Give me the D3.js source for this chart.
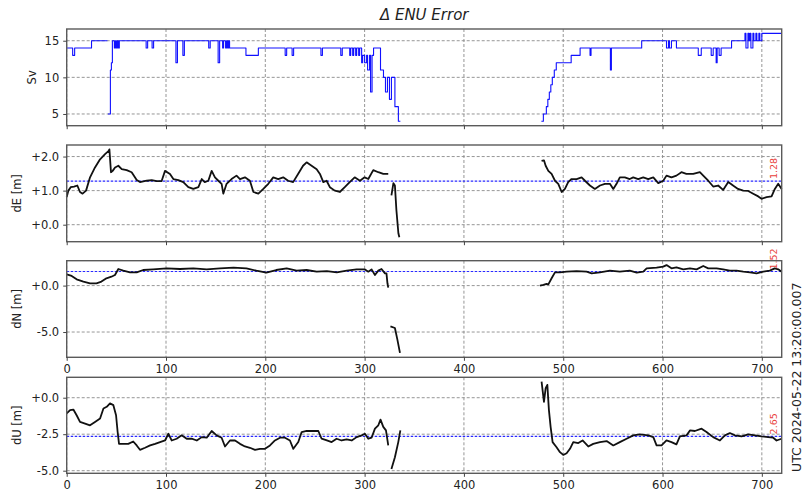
<!DOCTYPE html>
<html>
<head>
<meta charset="utf-8">
<script src="https://cdnjs.cloudflare.com/ajax/libs/d3/7.8.5/d3.min.js"></script>
<style>
  body { margin: 0; background: #fff; }
  svg { display: block; font-family: "DejaVu Sans", sans-serif; }
</style>
</head>
<body>
<div id="chart"></div>
<script>
// ==============================
// Data
// ==============================
var xTicks = [0, 100, 200, 300, 400, 500, 600, 700];

// Sv - satellites used (step series, null = gap)
var svTime = [0, 6, 8, 25, 41, 41.2, 41.5, 44, 45, 46, 48, 49, 50, 51, 52, 53, 80, 81.5, 86, 87.5,
  110, 111.5, 117, 118.5, 143, 144.5, 152.5, 154, 157, 158, 160, 161, 162, 163, 164, 180.5, 193,
  220, 221.5, 227, 228.5, 256, 257.5, 276, 277.5, 285, 286, 288, 289, 291, 292, 294, 295, 297, 298,
  300, 302, 303, 305, 306, 307.5, 309, 316, 319, 321, 323, 325, 327, 329, 330.5, 334, 336,
  336.2,
  478, 480, 483, 484.5, 486, 487.5, 489, 491, 493, 508, 517, 527, 528, 547.5, 548.5, 579, 604, 606,
  607, 609, 614, 636, 639, 649, 651, 654, 655, 657, 659, 669.5, 683, 684, 686, 687, 688, 689, 691,
  692, 694, 695, 697, 698, 700, 720];
var svValue = [14, 13, 14, 15, 15, null, 5, 11, 12, 15, 14, 15, 14, 15, 14, 15, 14, 15, 14, 15,
  12, 15, 13, 15, 14, 15, 12, 15, 14, 15, 14, 15, 14, 15, 14, 13, 14,
  13, 14, 13, 14, 13, 14, 13, 14, 13, 14, 13, 14, 13, 14, 13, 14, 12, 13,
  12, 13, 11, 13, 8, 13, 14, 11, 10, 8, 10, 7, 10, 10, 6, 4, 4,
  null,
  4, 5, 6, 7, 8, 9, 10, 11, 12, 13, 14, 13, 14, 11, 14, 15, 14, 15,
  14, 15, 14, 13, 14, 13, 14, 12, 14, 13, 14, 15, 16, 14, 16, 15, 16, 14, 16,
  15, 16, 15, 16, 15, 16, 16];

// dE [m]
var dETime = [0, 1.7, 4, 7.4, 10.7, 13.4, 16, 19.5, 23.5, 28.5, 33.6, 38.6, 42, 43, 44.6, 46.3, 48.7,
  52, 55.4, 60.4, 65.4, 70.5, 73.8, 80.5, 85.6, 90.6, 95.6, 99, 104, 107.4, 112.4, 117.4, 122.5,
  127.5, 132.6, 136, 139, 142.6, 146, 149.3, 152.7, 156, 157.7, 161, 166, 171, 174.5, 179.5, 184.5,
  188, 193, 198, 203, 208, 213, 218, 223, 228, 233, 238, 241.6, 246.6, 251.7, 255, 258.4, 261.7,
  265, 270, 275, 280, 285, 290, 295.3, 300, 303.7, 308.7, 313.8, 318.8, 323.8,
  325, 327, 329, 330.5, 332, 334, 335, 336,
  478.2, 480.6, 482.3, 485, 488.3, 491.7, 495, 498.4, 501.7, 505, 508.4, 513.5, 518.5, 521.9, 526.9,
  531.9, 537, 542, 547, 550.4, 553.7, 557, 562, 567, 570.5, 575.5, 580.6, 585.6, 590.7, 595.7,
  600.7, 604, 609, 614, 619, 624, 630.9, 637.6, 641, 646, 651, 656, 661, 666.2, 671, 676, 681.3,
  686.3, 691.3, 696.4, 699.7, 704.8, 709.8, 713.1, 716.5, 719.9];
var dEValue = [0.81, 1.0, 1.10, 1.12, 1.15, 0.96, 0.91, 1.0, 1.39, 1.68, 1.92, 2.07, 2.16, 2.21, 1.54,
  1.58, 1.68, 1.73, 1.63, 1.60, 1.54, 1.31, 1.25, 1.29, 1.31, 1.28, 1.28, 1.58, 1.49, 1.34, 1.31,
  1.25, 1.10, 1.05, 1.10, 1.34, 1.25, 1.29, 1.58, 1.39, 1.29, 1.20, 0.91, 1.20, 1.34, 1.44, 1.34,
  1.39, 1.29, 0.96, 0.91, 1.05, 1.20, 1.39, 1.34, 1.39, 1.29, 1.25, 1.49, 1.73, 1.83, 1.73, 1.63,
  1.49, 1.25, 1.29, 1.10, 1.0, 0.96, 1.10, 1.25, 1.39, 1.29, 1.39, 1.34, 1.60, 1.54, 1.49, 1.49,
  null, 0.86, 1.22, 1.15, 0.43, -0.25, -0.37, null,
  1.87, 1.89, 1.73, 1.58, 1.49, 1.29, 1.20, 0.96, 1.05, 1.25, 1.34, 1.34, 1.39, 1.29, 1.15, 1.05,
  1.15, 1.20, 1.20, 1.05, 1.20, 1.39, 1.39, 1.34, 1.39, 1.34, 1.39, 1.34, 1.39, 1.22, 1.29, 1.44,
  1.39, 1.44, 1.54, 1.49, 1.49, 1.54, 1.44, 1.29, 1.12, 1.15, 1.02, 1.25, 1.15, 1.05, 1.0, 0.99,
  0.91, 0.83, 0.76, 0.81, 0.83, 1.05, 1.20, 1.05];

// dN [m]
var dNTime = [0, 5, 10, 16.8, 23.5, 30, 35, 40, 45, 48.6, 52, 57, 63.8, 70.5, 77, 87, 100.7, 114,
  127.5, 141, 154.4, 168, 181, 191, 201, 211, 221.5, 231.5, 241.6, 251.7, 262, 272, 282, 292, 300,
  303.7, 307, 310.4, 313.8, 317, 320.5, 322, 323, 323.8,
  325, 326, 330.5, 333, 335.6, 336,
  476.6, 480, 483.3, 485, 488.3, 491.7, 496.7, 503.4, 513.5, 523.5, 528.6, 537, 547, 557, 567, 574,
  580.6, 584, 594, 600.7, 604, 609, 614, 620.9, 627.6, 634.3, 641, 646, 654.4, 661, 667.8, 674.5,
  681.3, 688, 694.7, 701.4, 708, 713, 716.5, 719.9];
var dNValue = [1.21, 1.04, 0.68, 0.43, 0.25, 0.25, 0.43, 0.79, 0.96, 1.14, 1.79, 1.61, 1.43, 1.43,
  1.68, 1.75, 1.86, 1.79, 1.86, 1.75, 1.86, 1.93, 1.86, 1.61, 1.39, 1.68, 1.86, 1.61, 1.68, 1.5,
  1.57, 1.43, 1.61, 1.75, 1.75, 1.5, 1.75, 1.14, 1.61, 1.79, 1.32, 1.32, 0.25, -0.21,
  null, -4.39, -4.57, -5.82, -7.25, null,
  0.0, 0.07, 0.18, 0.14, 0.79, 1.43, 1.43, 1.5, 1.57, 1.5, 1.32, 1.43, 1.61, 1.5, 1.61, 1.39, 1.5,
  1.86, 1.93, 2.04, 2.21, 1.86, 1.96, 1.75, 1.86, 1.75, 2.11, 1.86, 1.86, 1.75, 1.61, 1.61, 1.5,
  1.43, 1.32, 1.5, 1.61, 1.86, 1.75, 1.5];

// dU [m]
var dUTime = [0, 3.4, 6.7, 10, 13.4, 18.5, 23.5, 28.5, 33.6, 37, 40.3, 43.6, 47, 49.7, 51.3, 52.7,
  57, 62, 67, 70.5, 73.8, 78.9, 84, 89, 94, 99, 102.4, 105.7, 110.7, 115.8, 120.8, 125.8, 131, 136,
  141, 146, 151, 156, 159.4, 164.4, 169.5, 174.5, 179.5, 184.5, 189.6, 194.6, 199.7, 204.7, 209.7,
  214.8, 219.8, 224.8, 228.2, 233.2, 236.6, 241.6, 248.3, 253.4, 256.7, 262, 266.8, 271.8, 276.8,
  281.9, 287, 292, 297, 300.3, 303.7, 307, 310.4, 313.8, 316, 318.8, 321.5, 323.8,
  325, 327, 330.5, 333.9, 336, 337,
  478.2, 480.6, 482.3, 484, 485.6, 487.3, 489.3, 493.3, 496.7, 500, 503.4, 506.8, 510.1, 515.2,
  519.5, 525.2, 530.2, 537, 543.7, 550.4, 557, 563.8, 570.5, 577.2, 585.6, 590.7, 594, 599, 604,
  609, 614, 617.5, 624.2, 627.6, 632.6, 639.3, 644.3, 651, 657.8, 662.8, 667.8, 672.9, 679.6,
  686.3, 693, 699.7, 706.4, 711.5, 714.8, 719.9];
var dUValue = [-1.08, -0.85, -0.81, -1.2, -1.66, -1.77, -1.89, -1.66, -1.43, -0.74, -0.62, -0.39,
  -0.51, -1.2, -2.35, -3.16, -3.16, -3.16, -3.0, -3.27, -3.57, -3.43, -3.27, -3.16, -3.04, -2.93,
  -2.47, -2.93, -2.81, -2.58, -2.81, -2.81, -2.93, -2.70, -2.74, -2.28, -2.58, -2.74, -3.34, -2.93,
  -2.93, -3.16, -3.34, -3.43, -3.57, -3.50, -3.50, -3.27, -2.93, -2.74, -2.74, -2.93, -3.50, -3.04,
  -2.35, -2.28, -2.28, -2.28, -2.81, -2.93, -3.04, -2.81, -2.93, -2.86, -2.93, -2.70, -2.58, -2.47,
  -2.81, -2.74, -2.12, -1.89, -1.50, -2.0, -2.24, -3.27,
  null, -4.88, -4.08, -3.04, -2.24, null,
  1.1, -0.28, 0.65, 0.88, -0.85, -2.0, -3.04, -3.39, -3.73, -3.92, -3.80, -3.50, -3.04, -3.11,
  -2.93, -3.34, -3.16, -3.04, -2.97, -3.27, -3.04, -2.81, -2.58, -2.51, -2.58, -2.70, -3.27, -3.27,
  -2.93, -3.04, -3.20, -2.65, -2.58, -2.24, -2.28, -2.12, -2.35, -2.70, -2.93, -2.58, -2.42, -2.58,
  -2.65, -2.51, -2.58, -2.65, -2.70, -2.74, -2.93, -2.81];

// Mean values & their red labels
var meanValues = [null, 1.28, 1.52, -2.65];
var meanLabels = [null, "1.28", "1.52", "2.65"];

// Tick values per panel
var svTicks = [5, 10, 15];
var dETicks = [0, 1, 2];
var dNTicks = [-5, 0];
var dUTicks = [-5, -2.5, 0];

// ==============================
// Chart params
// ==============================
var svgWidth = 804;
var svgHeight = 497;
var left = 66.7, right = 781.7;
var panelBox = [[29, 125.7], [145, 241.7], [260.7, 357.3], [377.3, 473.3]];

var svg = d3.select("#chart")
  .append("svg")
  .attr("width", svgWidth)
  .attr("height", svgHeight);

var loc = d3.formatLocale({ decimal: ".", thousands: ",", grouping: [3], currency: ["", ""], minus: "-" });
var signFmt = loc.format("+.1f");

var xScale = d3.scaleLinear().domain([0, 720]).range([left, right]);

function toPoints(times, values) {
  return times.map(function(t, i) { return { t: t, v: values[i] }; });
}

var panels = [
  { label: "Sv", pts: toPoints(svTime, svValue), ticks: svTicks, fmt: d3.format("d"), color: "#1010ff", width: 1.1, step: true, labelX: 32, xLabels: false },
  { label: "dE [m]", pts: toPoints(dETime, dEValue), ticks: dETicks, fmt: signFmt, color: "#111", width: 1.8, step: false, labelX: 17, xLabels: false },
  { label: "dN [m]", pts: toPoints(dNTime, dNValue), ticks: dNTicks, fmt: signFmt, color: "#111", width: 1.8, step: false, labelX: 17, xLabels: true },
  { label: "dU [m]", pts: toPoints(dUTime, dUValue), ticks: dUTicks, fmt: signFmt, color: "#111", width: 1.8, step: false, labelX: 17, xLabels: true }
];

// ==============================
// Draw each panel
// ==============================
panels.forEach(function(p, i) {
  var top = panelBox[i][0], bottom = panelBox[i][1];
  var vals = p.pts.filter(function(d) { return d.v !== null; }).map(function(d) { return d.v; });
  var ext = d3.extent(vals);
  var pad = (ext[1] - ext[0]) * 0.05;
  var yScale = d3.scaleLinear().domain([ext[0] - pad, ext[1] + pad]).range([bottom, top]);

  var g = svg.append("g");

  // white axes background (covers tick labels of the panel above)
  g.append("rect")
    .attr("x", left).attr("y", top)
    .attr("width", right - left).attr("height", bottom - top)
    .attr("fill", "#fff");

  // grid
  g.append("g").selectAll("line.gx")
    .data(xTicks).enter().append("line")
    .attr("x1", d => xScale(d)).attr("x2", d => xScale(d))
    .attr("y1", top).attr("y2", bottom)
    .attr("stroke", "#8a8a8a").attr("stroke-width", 0.9).attr("stroke-dasharray", "3,2");
  g.append("g").selectAll("line.gy")
    .data(p.ticks).enter().append("line")
    .attr("x1", left).attr("x2", right)
    .attr("y1", d => yScale(d)).attr("y2", d => yScale(d))
    .attr("stroke", "#8a8a8a").attr("stroke-width", 0.9).attr("stroke-dasharray", "3,2");

  // mean line
  if (meanValues[i] !== null) {
    g.append("line")
      .attr("x1", left).attr("x2", right)
      .attr("y1", yScale(meanValues[i])).attr("y2", yScale(meanValues[i]))
      .attr("stroke", "#2a2aff").attr("stroke-width", 1.2).attr("stroke-dasharray", "2.5,1.5");
  }

  // data line
  var line = d3.line()
    .defined(d => d.v !== null)
    .x(d => xScale(d.t))
    .y(d => yScale(d.v))
    .curve(p.step ? d3.curveStepAfter : d3.curveLinear);

  g.append("path")
    .datum(p.pts)
    .attr("d", line)
    .attr("fill", "none")
    .attr("stroke", p.color)
    .attr("stroke-width", p.width)
    .attr("stroke-linejoin", "round");

  // red mean label
  if (meanValues[i] !== null) {
    g.append("text")
      .attr("transform", `translate(${xScale(712) + 3}, ${yScale(meanValues[i]) - 2}) rotate(-90)`)
      .attr("fill", "#e8403a")
      .attr("font-size", 9.5)
      .text(meanLabels[i]);
  }

  // frame
  g.append("rect")
    .attr("x", left).attr("y", top)
    .attr("width", right - left).attr("height", bottom - top)
    .attr("fill", "none").attr("stroke", "#5a5a5a").attr("stroke-width", 1.4);

  // y axis
  var yAxis = d3.axisLeft(yScale).tickValues(p.ticks).tickFormat(p.fmt).tickSizeOuter(0).tickSize(3.5).tickPadding(4);
  var ya = g.append("g").attr("transform", `translate(${left}, 0)`).call(yAxis);
  ya.select(".domain").remove();
  ya.selectAll("line").attr("stroke", "#444");
  ya.selectAll("text").attr("font-size", 11.5).attr("fill", "#222").attr("font-family", "DejaVu Sans");

  // x axis
  var xAxis = d3.axisBottom(xScale).tickValues(xTicks).tickSizeOuter(0).tickSize(3.5).tickPadding(4.5);
  var xa = g.append("g").attr("transform", `translate(0, ${bottom})`).call(xAxis);
  xa.select(".domain").remove();
  xa.selectAll("line").attr("stroke", "#444");
  xa.selectAll("text").attr("font-size", 11.5).attr("fill", "#222").attr("font-family", "DejaVu Sans");
  if (!p.xLabels) xa.selectAll("text").remove();

  // y label
  g.append("text")
    .attr("transform", `translate(${p.labelX}, ${(top + bottom) / 2}) rotate(-90)`)
    .attr("text-anchor", "middle")
    .attr("dy", "0.35em")
    .attr("font-size", 11.5)
    .attr("fill", "#222")
    .text(p.label);
});

// title
svg.append("text")
  .attr("x", (left + right) / 2)
  .attr("y", 20)
  .attr("text-anchor", "middle")
  .attr("font-size", 15)
  .attr("font-style", "italic")
  .attr("fill", "#222")
  .text("\u0394 ENU Error");

// timestamp on the right
svg.append("text")
  .attr("transform", `translate(${801}, ${472}) rotate(-90)`)
  .attr("font-size", 12.5)
  .attr("fill", "#222")
  .text("UTC 2024-05-22 13:20:00.007");
</script>
</body>
</html>
